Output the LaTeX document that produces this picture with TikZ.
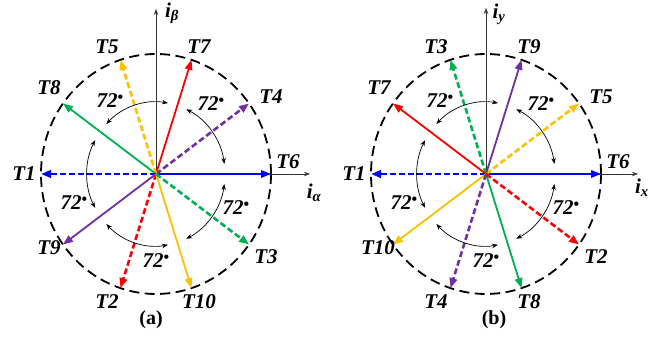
\documentclass[tikz,border=0pt]{standalone}
\usepackage{fontspec}
\setmainfont{Liberation Serif}
\usetikzlibrary{arrows.meta,calc,positioning}
\definecolor{vblue}{RGB}{0,0,255}
\definecolor{vred}{RGB}{255,0,0}
\definecolor{vyellow}{RGB}{255,192,0}
\definecolor{vgreen}{RGB}{0,176,80}
\definecolor{vpurple}{RGB}{112,48,160}
\newcommand{\degdot}{\raisebox{5.5pt}{\fontsize{16}{16}\selectfont\upshape•}}
\tikzset{
  vec/.style={line width=1.8pt, -{Triangle[length=10pt,width=7.5pt]}},
  dvec/.style={vec, line width=2.6pt, dash pattern=on 6pt off 3pt},
  ring/.style={line width=1.8pt, dash pattern=on 10pt off 5.5pt},
  axis/.style={line width=0.7pt, draw=black!80, -{Stealth[length=6pt,width=4.5pt]}},
  swing/.style={line width=0.7pt, {Stealth[length=6pt,width=4.5pt]}-{Stealth[length=6pt,width=4.5pt]}},
  tlab/.style={inner sep=0pt, font=\fontsize{21}{22}\selectfont\bfseries\itshape},
  dlab/.style={inner sep=0pt, font=\fontsize{21}{22}\selectfont\bfseries\itshape},
  caplab/.style={inner sep=0pt, font=\fontsize{20}{22}\selectfont\bfseries}
}

\begin{document}
\begin{tikzpicture}[x=1pt,y=1pt]
    \useasboundingbox (0,0) rectangle (670,344);

    % (a)
    \coordinate (Oa) at (156,170);
    \coordinate (Xa) at (310,170);
    \coordinate (Ya) at (156,335);
    \draw[ring] (Oa) ellipse [x radius=115, y radius=120];
    \draw[axis] (Oa) -- (Xa);
    \draw[axis] (Oa) -- (Ya);
    \node[tlab] (ialpha) at (314,151) {i\textsubscript{α}};
    \node[tlab] (ibeta) at (172,331) {i\textsubscript{β}};

    \foreach \ang/\lx/\ly/\col/\sty/\lab in {
        0/132/12/vblue/vec/6, 36/115/77/vpurple/dvec/4,
        72/43/127/vred/vec/7, 108/-49/127/vyellow/dvec/5,
        144/-107/86/vgreen/vec/8, 180/-132/0/vblue/dvec/1,
        216/-107/-74/vpurple/vec/9, 252/-49/-128/vred/dvec/2,
        288/43/-128/vyellow/vec/10, 324/110/-83/vgreen/dvec/3}
    {
        \coordinate (a\lab) at ($(Oa)+({115*cos(\ang)},{120*sin(\ang)})$);
        \draw[\sty,\col] (Oa) -- (a\lab);
        \node[tlab] (ta\lab) at ($(Oa)+(\lx,\ly)$) {T\lab};
    }

    % (b)
    \coordinate (Ob) at (486,170);
    \coordinate (Xb) at (638,170);
    \coordinate (Yb) at (486,336);
    \draw[ring] (Ob) ellipse [x radius=115, y radius=120];
    \draw[axis] (Ob) -- (Xb);
    \draw[axis] (Ob) -- (Yb);
    \node[tlab] (ix) at (642,156) {i\textsubscript{x}};
    \node[tlab] (iy) at (499,330) {i\textsubscript{y}};

    \foreach \ang/\lx/\ly/\col/\sty/\lab in {
        0/132/12/vblue/vec/6, 36/115/77/vyellow/dvec/5,
        72/43/127/vpurple/vec/9, 108/-50/127/vgreen/dvec/3,
        144/-107/86/vred/vec/7, 180/-132/0/vblue/dvec/1,
        216/-108/-74/vyellow/vec/10, 252/-50/-128/vpurple/dvec/4,
        288/43/-128/vgreen/vec/8, 324/110/-83/vred/dvec/2}
    {
        \coordinate (b\lab) at ($(Ob)+({115*cos(\ang)},{120*sin(\ang)})$);
        \draw[\sty,\col] (Ob) -- (b\lab);
        \node[tlab] (tb\lab) at ($(Ob)+(\lx,\ly)$) {T\lab};
    }

    % 72 degree swings
    \foreach \O in {Oa,Ob}
    {
        \foreach \mid [evaluate=\mid as \s using \mid-28,
                       evaluate=\mid as \e using \mid+28] in {36,108,180,252,324}
            \draw[swing] ($(\O)+({69*cos(\s)},{72*sin(\s)})$)
                arc[start angle=\s, end angle=\e, x radius=69, y radius=72];
        \foreach \dx/\dy [count=\k] in {-46/73, 55/70, -82/-29, 0/-87, 80/-34}
            \node[dlab] (d\O\k) at ($(\O)+(\dx,\dy)$) {72\degdot};
    }

    \node[caplab] (capa) at (151,24) {(a)};
    \node[caplab] (capb) at (494,24) {(b)};
\end{tikzpicture}
\end{document}
